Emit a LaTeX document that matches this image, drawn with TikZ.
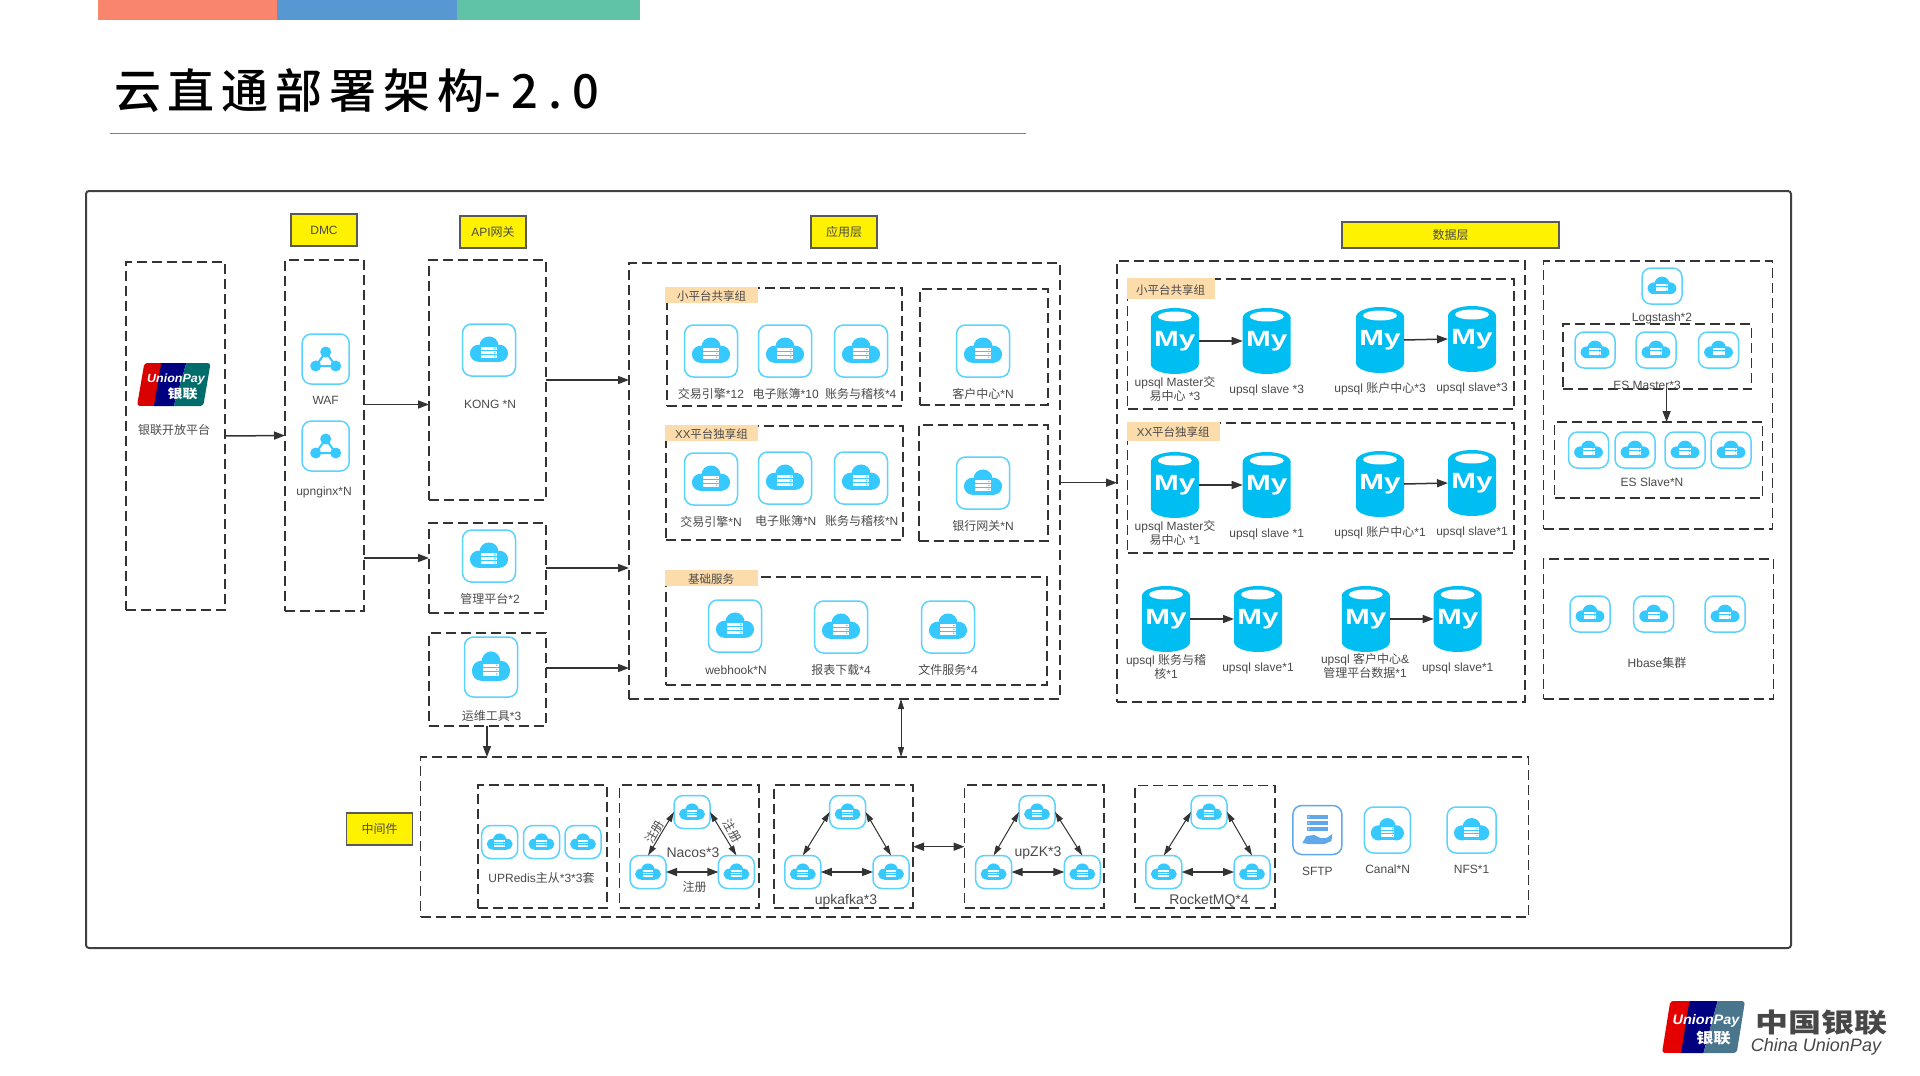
\documentclass[tikz,border=0pt]{standalone}
\usepackage{graphicx}
\usepackage{fontspec}
\setmainfont{Liberation Sans}
\newfontfamily\cjk{Noto Sans CJK SC}
\newfontfamily\titlecjk[LetterSpace=14.5]{Noto Sans CJK SC Medium}
\newfontfamily\titlenum[LetterSpace=22]{Noto Sans CJK SC Medium}
\usetikzlibrary{arrows.meta,fit}
\definecolor{linegray}{HTML}{333333}
\definecolor{textgray}{HTML}{4A4A4A}
\definecolor{iconline}{HTML}{5CD2FF}
\definecolor{iconfill}{HTML}{35C9FF}
\definecolor{dbblue}{HTML}{00BEF2}
\definecolor{tagorange}{HTML}{FDDCAB}
\definecolor{sftpblue}{HTML}{5FA8EA}
\newcommand{\zh}[1]{{\cjk #1}}
\tikzset{
	lbl/.style={font=\fontsize{12}{14}\selectfont, text=textgray, inner sep=0pt, align=center},
	biglbl/.style={lbl, font=\fontsize{14}{16}\selectfont},
	groupline/.style={draw=linegray, line width=1.6pt, dash pattern=on 10pt off 5pt, inner sep=0pt, outer sep=0pt},
	yellowbox/.style={draw=black!65, line width=1.6pt, fill=yellow, lbl, minimum height=32pt},
	tagbox/.style={fill=tagorange, lbl, font=\fontsize{11.5}{14}\selectfont, text height=12pt, text depth=0.4pt},
	iconbox/.style={draw=iconline, line width=1.5pt, fill=white, rounded corners=9pt, inner sep=0pt, outer sep=0pt},
	flow/.style={draw=linegray, line width=1.5pt, -{Triangle[length=11pt,width=8pt]}},
	flowtwo/.style={draw=linegray, line width=1.5pt, {Triangle[length=11pt,width=8pt]}-{Triangle[length=11pt,width=8pt]}},
	thintwo/.style={draw=linegray, line width=1pt, {Triangle[length=10pt,width=6pt]}-{Triangle[length=10pt,width=6pt]}},
}
% name, corners
\newcommand{\groupbox}[5]{\node[groupline, fit={(#2,#3) (#4,#5)}] (#1) {};}
% name, x, y, width, height
\newcommand{\cloudbox}[5]{
	\node[iconbox, minimum width=#4pt, minimum height=#5pt] (#1) at (#2,#3) {};
	\begin{scope}[shift={(#1.center)}, x=#4pt, y=-#5pt]
		\fill[iconfill] (0,-.08) circle (.18);
		\fill[iconfill] (-.195,.063) circle (.165);
		\fill[iconfill] (.195,.063) circle (.165);
		\fill[iconfill] (-.195,-.03) rectangle (.195,.228);
		\foreach \sy in {-.03,.044,.118} {
			\fill[white] (-.15,\sy-.028) rectangle (.15,\sy+.028);
			\fill[iconfill] (.11,\sy) circle (.014);
		}
	\end{scope}
}
% name, x, y
\newcommand{\mysqldb}[3]{
	\begin{scope}[shift={(#2,#3)}]
		\fill[dbblue] (-24,-23) arc[x radius=24, y radius=10, start angle=180, end angle=360] -- (24,23) arc[x radius=24, y radius=10, start angle=0, end angle=180] -- cycle;
		\fill[white] (0,-24.5) ellipse (17 and 5);
	\end{scope}
	\node[minimum width=48pt, minimum height=66pt, inner sep=0pt, outer sep=0pt, text=white, font=\fontsize{22}{22}\selectfont\bfseries] (#1) at (#2,#3) {\raisebox{-9pt}{\scalebox{1.35}[1]{My}}};
}
% name, x, y, width, height, size, three band colours
\newcommand{\unionlogo}[9]{
	\node[minimum width=#4pt, minimum height=#5pt, inner sep=0pt, outer sep=0pt] (#1) at (#2,#3) {};
	\begin{scope}[shift={(#1.north west)}, x=#4pt, y=-#5pt]
		\begin{scope}
			\clip[rounded corners=3pt] (.1,0) -- (1,0) -- (.9,1) -- (0,1) -- cycle;
			\fill[#7] (0,0) rectangle (.33,1);
			\fill[#8] (.33,0) -- (.67,0) -- (.5,1) -- (.23,1) -- cycle;
			\fill[#9] (.67,0) -- (1,0) -- (1,1) -- (.5,1) -- cycle;
		\end{scope}
		\node[text=white, inner sep=0pt, font=\fontsize{#6}{#6}\selectfont\bfseries\itshape] (#1a) at (.53,.38) {\scalebox{1}[.95]{UnionPay}};
		\node[text=white, inner sep=0pt, font=\fontsize{#6}{#6}\selectfont\bfseries] (#1b) at (.62,.72) {\scalebox{1.2}[1]{\zh{银联}}};
	\end{scope}
}

\begin{document}
\begin{tikzpicture}[x=1pt, y=-1pt]
	\useasboundingbox (0,0) rectangle (1920,1076);
	
	%%%%% TOP %%%%%
	\fill[fill={rgb,255:red,248;green,133;blue,108}] (98,0) rectangle (277,20);
	\fill[fill={rgb,255:red,88;green,152;blue,210}] (277,0) rectangle (457,20);
	\fill[fill={rgb,255:red,96;green,195;blue,168}] (457,0) rectangle (640,20);
	\node[anchor=west, inner sep=0pt, font=\fontsize{47}{47}\selectfont\titlecjk] (title) at (114,91) {云直通部署架构{\titlenum -2.0}};
	\draw[line width=1pt, color=black!50] (110,133) -- (1026,133);
	\draw[line width=2pt, color=black!75, rounded corners=3pt] (86,191) rectangle (1791,948);
	
	%%%%% LAYER NAMES %%%%%
	\node[yellowbox, minimum width=66pt] (namedmc) at (324,230) {\raisebox{-3pt}{DMC}};
	\node[yellowbox, minimum width=66pt] (nameapi) at (493,232) {\raisebox{-1pt}{API\zh{网关}}};
	\node[yellowbox, minimum width=66pt] (nameapp) at (844,232) {\zh{应用层}};
	\node[yellowbox, minimum width=217pt, minimum height=26pt] (namedata) at (1450.5,235) {\zh{数据层}};
	\node[yellowbox, minimum width=66pt] (namemid) at (379.5,829) {\zh{中间件}};
	
	%%%%% GROUPS %%%%%
	\groupbox{union}{126}{262}{225}{610}
	\groupbox{dmc}{285}{260}{364}{611}
	\groupbox{kong}{429}{260}{546}{500}
	\groupbox{mgmt}{429}{523}{546}{613}
	\groupbox{ops}{429}{633}{546}{726}
	\groupbox{app}{629}{263}{1060}{699}
	\groupbox{appsmall}{667}{288}{902}{406}
	\groupbox{appcust}{920}{289}{1048}{405}
	\groupbox{appxx}{666}{426}{903}{540}
	\groupbox{appbank}{919}{425}{1048}{541}
	\groupbox{appbase}{666}{577}{1047}{685}
	\groupbox{data}{1117}{261}{1525}{702}
	\groupbox{datasmall}{1127.5}{279}{1514}{409}
	\groupbox{dataxx}{1127.5}{423}{1514}{553}
	\groupbox{es}{1543.5}{261}{1772.5}{529}
	\groupbox{esmaster}{1563}{324}{1751.5}{389}
	\groupbox{esslave}{1554.5}{422}{1762.5}{498}
	\groupbox{hbase}{1543.5}{559}{1773.5}{699}
	\groupbox{mid}{420.5}{757}{1528.5}{917}
	\groupbox{redis}{478}{785}{607}{908}
	\groupbox{nacos}{619.5}{785}{759}{908}
	\groupbox{kafka}{774}{785}{913}{908}
	\groupbox{zk}{964.5}{785}{1104}{908}
	\groupbox{rocket}{1135}{785.5}{1275}{908}
	
	\node[tagbox, minimum width=93pt, minimum height=16pt] (tagappsmall) at (711.5,294.7) {\zh{小平台共享组}};
	\node[tagbox, minimum width=93pt, minimum height=16pt] (tagappxx) at (711.5,433) {XX\zh{平台独享组}};
	\node[tagbox, minimum width=93pt, minimum height=16pt] (tagappbase) at (711,578) {\zh{基础服务}};
	\node[tagbox, minimum width=88pt, minimum height=20.5pt] (tagdatasmall) at (1170.7,288.5) {\zh{小平台共享组}};
	\node[tagbox, minimum width=93pt, minimum height=19pt] (tagdataxx) at (1173.3,431) {XX\zh{平台独享组}};
	
	%%%%% ICONS %%%%%
	\foreach \nm/\px/\py in {kongi/489/350, mgmti/489/556, trade/711/351, ledger/785/351, audit/861/351, cust/983/351, tradex/711/479, ledgerx/785/478, auditx/861/478, bank/983/483, webhook/735/626, report/841/627, file/948/627} {
		\cloudbox{\nm}{\px}{\py}{53}{52}
	}
	\cloudbox{opsi}{491}{667}{53}{60}
	\foreach \nm/\px/\py in {logstash/1662/286, esm1/1595/350, esm2/1656/350, esm3/1718.5/350, ess1/1588.5/450, ess2/1635/450, ess3/1685/450, ess4/1731/450, hb1/1590/614, hb2/1653.7/614, hb3/1725/614} {
		\cloudbox{\nm}{\px}{\py}{40}{36}
	}
	\foreach \nm/\px/\py in {redis1/499.7/842, redis2/541.5/842, redis3/583/842, nacostop/692/812, nacosleft/648/872, nacosright/736.4/872, kafkatop/847.6/812, kafkaleft/802.8/872, kafkaright/891/872, zktop/1037/812, zkleft/993.6/872, zkright/1082.3/872, rockettop/1209/812, rocketleft/1163.8/872, rocketright/1252/872} {
		\cloudbox{\nm}{\px}{\py}{36}{33}
	}
	\cloudbox{canal}{1387.4}{830}{46}{46}
	\cloudbox{nfs}{1471.6}{830}{49}{46}
	
	% the two proxies have three linked dots in place of a cloud
	\foreach \nm/\py in {waf/359, nginx/446} {
		\node[iconbox, minimum width=47pt, minimum height=50pt] (\nm) at (325.7,\py) {};
		\begin{scope}[shift={(\nm.center)}]
			\draw[iconfill, line width=2pt] (0,-7) -- (-10,7) -- (10,7) -- cycle;
			\fill[iconfill] (0,-7) circle (5.5);
			\fill[iconfill] (-10,7) circle (5.5);
			\fill[iconfill] (10,7) circle (5.5);
		\end{scope}
	}
	
	\node[iconbox, draw=sftpblue, minimum width=49pt, minimum height=49pt] (sftp) at (1317.4,830) {};
	\begin{scope}[shift={(sftp.center)}]
		\foreach \sy in {-13,-7,-1} {
			\fill[sftpblue] (-10.5,\sy-2.4) rectangle (10.5,\sy+2.4);
			\fill[white] (-8.5,\sy) circle (.7);
		}
		\fill[sftpblue] (-15,13) -- (-11,6) -- (-3,5) -- (3,8) -- (9,8) -- (15,4) -- (14,11) -- (7,14) -- (-9,14) -- cycle;
	\end{scope}
	
	%%%%% DATABASES %%%%%
	\mysqldb{db1}{1174.8}{341}
	\mysqldb{db2}{1266.7}{341}
	\mysqldb{db3}{1380}{340}
	\mysqldb{db4}{1472}{339}
	\mysqldb{db5}{1174.8}{485}
	\mysqldb{db6}{1266.7}{485}
	\mysqldb{db7}{1380}{484}
	\mysqldb{db8}{1472}{483}
	\mysqldb{db9}{1166}{619}
	\mysqldb{db10}{1258}{619}
	\mysqldb{db11}{1365.8}{619}
	\mysqldb{db12}{1457.7}{619}
	
	%%%%% LOGOS %%%%%
	\unionlogo{paylogo}{173.8}{384.5}{73.6}{43}{12.5}{red!85!black}{blue!50!black}{teal!85!black}
	\unionlogo{paylogob}{1703.5}{1027}{83}{52}{14.5}{red!90!black}{blue!50!black}{cyan!50!black}
	\node[inner sep=0pt, text=black!72, font=\fontsize{33}{33}\selectfont\cjk\bfseries] (brandzh) at (1821,1023) {\scalebox{1}[.8]{中国银联}};
	\node[inner sep=0pt, text=black!72, font=\fontsize{18}{18}\selectfont\itshape] (branden) at (1816,1047) {China UnionPay};
	
	%%%%% LABELS %%%%%
	\foreach \tx/\px/\py [count=\i] in {
		{\zh{银联开放平台}}/174/428.6, WAF/325.7/399.6, {upnginx*N}/324/491, {KONG *N}/490/403, {\zh{管理平台}*2}/490/598, {\zh{运维工具}*3}/491.5/715,
		{\zh{交易引擎}*12}/711/393, {\zh{电子账簿}*10}/785.7/393, {\zh{账务与稽核}*4}/860.7/393, {\zh{客户中心}*N}/983/393,
		{\zh{交易引擎}*N}/711/521, {\zh{电子账簿}*N}/785.7/520, {\zh{账务与稽核}*N}/861.7/520, {\zh{银行网关}*N}/983/525,
		{webhook*N}/736/669.7, {\zh{报表下载}*4}/841/669, {\zh{文件服务}*4}/948/669,
		{upsql Master\zh{交}\\\zh{易中心} *3}/1175/388, {upsql slave *3}/1266.7/389, {upsql \zh{账户中心}*3}/1380/387.7, {upsql slave*3}/1472/387.7,
		{upsql Master\zh{交}\\\zh{易中心} *1}/1175/532, {upsql slave *1}/1266.7/533, {upsql \zh{账户中心}*1}/1380/531.7, {upsql slave*1}/1472/531.7,
		{upsql \zh{账务与稽}\\\zh{核}*1}/1166/666, {upsql slave*1}/1258/667.7, {upsql \zh{客户中心}\&\\\zh{管理平台数据}*1}/1365/664.5, {upsql slave*1}/1457.7/667.7,
		{Logstash*2}/1662/317, {ES Master*3}/1647/384, {ES Slave*N}/1652/481, {Hbase\zh{集群}}/1657/662,
		{UPRedis\zh{主从}*3*3\zh{套}}/541.5/877, {\zh{注册}}/694.6/886,
		SFTP/1317.4/870, {Canal*N}/1387.6/868, {NFS*1}/1471.6/868} {
		\node[lbl, yshift=-1pt] (lbl\i) at (\px,\py) {\tx};
	}
	\foreach \tx/\px/\py [count=\i] in {{Nacos*3}/693/852.7, {upkafka*3}/846/900.7, {upZK*3}/1038/852.7, {RocketMQ*4}/1209/900.3} {
		\node[biglbl] (biglbl\i) at (\px,\py) {\tx};
	}
	\node[lbl, rotate=60] (regleft) at (655,832) {\zh{注册}};
	\node[lbl, rotate=-60] (regright) at (732,831) {\zh{注册}};
	
	%%%%% CONNECTORS %%%%%
	\coordinate (kongin) at (429,404.5);
	\coordinate (mgmtin) at (429,558);
	\coordinate (opsout) at (546,668);
	\coordinate (opsmid) at (487,740);
	\coordinate (appmid) at (901,730);
	\coordinate (appout) at (1060,482.7);
	\coordinate (esmid) at (1666.6,400);
	\coordinate (kzout) at (913,846.7);
	
	\draw[flow] (union.east) -- (dmc.west);
	\draw[flow] (dmc.east |- kongin) -- (kongin);
	\draw[flow] (dmc.east |- mgmtin) -- (mgmtin);
	\draw[flow] (kong.east) -- (app.west |- kong.east);
	\draw[flow] (mgmt.east) -- (app.west |- mgmt.east);
	\draw[flow] (opsout) -- (app.west |- opsout);
	\draw[flow] (opsmid |- ops.south) -- (opsmid |- mid.north);
	\draw[thintwo] (appmid |- app.south) -- (appmid |- mid.north);
	\draw[flow] (appout) -- (data.west |- appout);
	\draw[flow] (esmid |- esmaster.south) -- (esmid |- esslave.north);
	\draw[flowtwo] (kzout) -- (zk.west |- kzout);
	
	\foreach \a/\b in {db1/db2, db3/db4, db5/db6, db7/db8, db9/db10, db11/db12} {
		\draw[flow] (\a.east) -- (\b.west);
	}
	\foreach \grp in {nacos, kafka, zk, rocket} {
		\draw[thintwo] (\grp top.west) -- (\grp left.north);
		\draw[thintwo] (\grp top.east) -- (\grp right.north);
		\draw[flowtwo, line width=1.2pt] (\grp left.east) -- (\grp right.west);
	}
\end{tikzpicture}
\end{document}
